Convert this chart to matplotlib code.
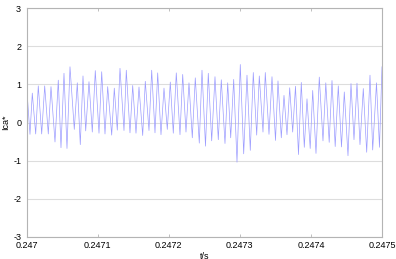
import numpy as np
import matplotlib.pyplot as plt

# time offsets from 0.247 s (microseconds), alternating peaks / troughs
t_offset_us = [
    0.0, 4.64, 7.88, 12.67, 16.32, 21.11, 25.33, 30.40, 34.20, 39.83,
    44.47, 48.27, 52.49, 56.71, 60.94, 66.99, 71.21, 75.43, 79.23, 83.03,
    87.67, 92.32, 96.54, 101.75, 105.55, 110.19, 113.99, 119.62, 123.28, 127.50,
    131.30, 136.93, 140.17, 145.37, 149.17, 153.82, 158.04, 163.25, 166.91, 172.11,
    175.91, 180.56, 184.36, 189.00, 193.22, 197.87, 202.09, 206.31, 210.53, 215.74,
    219.54, 224.18, 228.40, 233.05, 237.27, 242.90, 246.70, 251.63, 255.57, 260.35,
    264.99, 269.64, 273.86, 279.07, 282.87, 287.09, 291.31, 295.96, 300.60, 305.38,
    310.03, 314.67, 318.89, 323.68, 327.34, 332.55, 335.78, 340.99, 345.21, 350.14,
    353.66, 358.30, 362.10, 366.32, 370.12, 374.34, 378.28, 382.50, 386.44, 390.67,
    394.47, 398.97, 402.49, 407.13, 411.78, 416.98, 420.92, 425.71, 429.65, 434.15,
    438.51, 443.02, 446.96, 452.17, 456.39, 460.61, 464.83, 469.05, 473.70, 478.48,
    483.13, 486.93, 492.27, 496.49, 500.0,
]
ica = [
    0.93, -0.31, 0.77, -0.30, 0.96, -0.30, 0.96, -0.30, 0.94, -0.51,
    1.11, -0.66, 1.29, -0.68, 1.46, -0.18, 1.04, -0.58, 1.22, -0.22,
    1.07, -0.25, 1.36, -0.28, 1.33, -0.30, 0.94, -0.33, 0.90, -0.20,
    1.42, -0.21, 1.37, -0.27, 0.97, -0.28, 0.93, -0.34, 1.08, -0.21,
    1.37, -0.27, 1.30, -0.32, 0.90, -0.18, 1.06, -0.28, 1.30, -0.32,
    1.26, -0.25, 1.04, -0.40, 1.17, -0.54, 1.37, -0.62, 1.29, -0.48,
    1.20, -0.45, 1.12, -0.55, 1.04, -0.40, 1.13, -1.04, 1.52, -0.82,
    1.24, -0.73, 1.31, -0.33, 1.22, -0.25, 1.31, -0.31, 1.20, -0.47,
    1.09, -0.40, 0.71, -0.32, 0.91, -0.25, 0.95, -0.84, 1.05, -0.65,
    0.62, -0.68, 0.84, -0.81, 1.19, -0.48, 1.04, -0.52, 1.10, -0.63,
    0.96, -0.64, 0.80, -0.87, 1.02, -0.45, 1.03, -0.58, 0.89, -0.78,
    1.24, -0.72, 1.04, -0.65, 1.46,
]
x_ticks = [0.247, 0.2471, 0.2472, 0.2473, 0.2474, 0.2475]
x_tick_labels = ["0.247", "0.2471", "0.2472", "0.2473", "0.2474", "0.2475"]
y_ticks = [-3, -2, -1, 0, 1, 2, 3]

plt.rcParams["font.family"] = ["Liberation Sans", "DejaVu Sans"]
plt.rcParams["axes.unicode_minus"] = False

t = 0.247 + np.array(t_offset_us) * 1e-6

fig = plt.figure(figsize=(3.96, 2.59), dpi=100)
ax = fig.add_axes([0.0674, 0.085, 0.8972, 0.884])

ax.plot(t, ica, color="#9c9cff", linewidth=0.5)

ax.set_xlim(0.247, 0.2475)
ax.set_ylim(-3, 3)
ax.set_xticks(x_ticks)
ax.set_xticklabels(x_tick_labels)
ax.set_yticks(y_ticks)

ax.yaxis.grid(True, color="#dddddd", linewidth=0.8)
ax.set_axisbelow(True)
for spine in ax.spines.values():
    spine.set_color("#b4b4b4")
    spine.set_linewidth(0.8)

ax.tick_params(axis="both", direction="in", length=2.5, width=0.6,
               color="#b4b4b4", labelsize=6.5, top=True, right=True)
ax.tick_params(axis="x", pad=3)
ax.tick_params(axis="y", length=0, pad=4)

ax.set_xlabel("t/s", fontsize=6.5, labelpad=1)
ax.set_ylabel("Ica*", fontsize=6.5, labelpad=2)

fig.savefig("out.png", dpi=100)
